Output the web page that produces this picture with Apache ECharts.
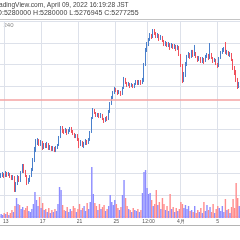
<!DOCTYPE html>
<html>
<head>
<meta charset="utf-8">
<script src="https://cdn.jsdelivr.net/npm/echarts@6/dist/echarts.min.js"></script>
<style>
  html, body { margin: 0; padding: 0; background: #fff; }
  #main { width: 240px; height: 240px; }
</style>
</head>
<body>
<div id="main"></div>
<script>
// BTCJPY 240 min bars, prices in thousand JPY
const headerTitle = 'TradingView.com, April 09, 2022 16:19:28 JST';
const headerOHLC = ['O:5280000', 'H:5280000', 'L:5276945', 'C:5277255'];
const intervalLabel = '240';
const lastClose = 5277.255;

const tickIndex = [3, 27, 51, 75, 96, 117, 141];
const tickText = ['13', '17', '21', '25', '12:00', '4月', '5'];

const opens = [
  4564, 4582, 4592, 4573, 4601, 4582, 4592, 4573, 4555, 4564,
  4444, 4509, 4555, 4536, 4610, 4656, 4619, 4573, 4518, 4536,
  4573, 4629, 4721, 4813, 4877, 4896, 4868, 4887, 4841, 4859,
  4850, 4868, 4831, 4841, 4822, 4831, 4813, 4831, 4859, 4933,
  5016, 4988, 4979, 4997, 4970, 4988, 5006, 4988, 4960, 4933,
  4951, 4905, 4859, 4887, 4850, 4868, 4896, 4877, 4905, 4979,
  5108, 5182, 5154, 5126, 5145, 5117, 5135, 5099, 5080, 5108,
  5099, 5163, 5237, 5292, 5338, 5375, 5357, 5338, 5347, 5329,
  5384, 5458, 5430, 5412, 5421, 5403, 5412, 5394, 5421, 5440,
  5421, 5440, 5430, 5458, 5596, 5735, 5790, 5827, 5873, 5854,
  5910, 5891, 5854, 5873, 5836, 5854, 5818, 5781, 5799, 5771,
  5790, 5762, 5781, 5753, 5771, 5744, 5762, 5689, 5596, 5477,
  5504, 5606, 5670, 5698, 5670, 5716, 5689, 5707, 5670, 5642,
  5661, 5624, 5652, 5633, 5670, 5689, 5661, 5698, 5661, 5633,
  5642, 5606, 5587, 5661, 5707, 5725, 5744, 5707, 5716, 5689,
  5698, 5642, 5569, 5532, 5458, 5403
];
const closes = [
  4582, 4592, 4573, 4601, 4582, 4592, 4573, 4555, 4564, 4444,
  4509, 4555, 4536, 4610, 4656, 4619, 4573, 4518, 4536, 4573,
  4629, 4721, 4813, 4877, 4896, 4868, 4887, 4841, 4859, 4850,
  4868, 4831, 4841, 4822, 4831, 4813, 4831, 4859, 4933, 5016,
  4988, 4979, 4997, 4970, 4988, 5006, 4988, 4960, 4933, 4951,
  4905, 4859, 4887, 4850, 4868, 4896, 4877, 4905, 4979, 5108,
  5182, 5154, 5126, 5145, 5117, 5135, 5099, 5080, 5108, 5099,
  5163, 5237, 5292, 5338, 5375, 5357, 5338, 5347, 5329, 5384,
  5458, 5430, 5412, 5421, 5403, 5412, 5394, 5421, 5440, 5421,
  5440, 5430, 5458, 5596, 5735, 5790, 5827, 5873, 5854, 5910,
  5891, 5854, 5873, 5836, 5854, 5818, 5781, 5799, 5771, 5790,
  5762, 5781, 5753, 5771, 5744, 5762, 5689, 5596, 5477, 5504,
  5606, 5670, 5698, 5670, 5716, 5689, 5707, 5670, 5642, 5661,
  5624, 5652, 5633, 5670, 5689, 5661, 5698, 5661, 5633, 5642,
  5606, 5587, 5661, 5707, 5725, 5744, 5707, 5716, 5689, 5698,
  5642, 5569, 5532, 5458, 5403, 5421
];
const lows = [
  4555, 4564, 4555, 4564, 4564, 4573, 4555, 4536, 4536, 4426,
  4426, 4490, 4518, 4518, 4601, 4601, 4564, 4490, 4500, 4518,
  4564, 4619, 4702, 4794, 4859, 4850, 4850, 4813, 4822, 4831,
  4831, 4813, 4813, 4804, 4804, 4794, 4794, 4822, 4850, 4923,
  4970, 4960, 4970, 4951, 4960, 4979, 4970, 4951, 4923, 4923,
  4896, 4831, 4850, 4841, 4831, 4859, 4859, 4868, 4896, 4970,
  5099, 5145, 5117, 5117, 5108, 5108, 5089, 5062, 5071, 5080,
  5089, 5154, 5228, 5283, 5329, 5347, 5320, 5329, 5311, 5320,
  5375, 5421, 5394, 5403, 5384, 5394, 5384, 5384, 5412, 5412,
  5412, 5412, 5421, 5440, 5587, 5716, 5771, 5818, 5836, 5845,
  5873, 5845, 5845, 5818, 5827, 5808, 5771, 5771, 5762, 5762,
  5735, 5753, 5744, 5744, 5725, 5735, 5679, 5578, 5430, 5440,
  5486, 5587, 5661, 5652, 5661, 5670, 5679, 5661, 5624, 5633,
  5615, 5615, 5606, 5624, 5661, 5642, 5652, 5652, 5615, 5624,
  5596, 5569, 5578, 5652, 5698, 5716, 5698, 5689, 5679, 5670,
  5633, 5550, 5504, 5440, 5375, 5384
];
const highs = [
  4601, 4610, 4601, 4619, 4610, 4610, 4601, 4582, 4582, 4573,
  4518, 4582, 4573, 4619, 4684, 4684, 4629, 4582, 4555, 4582,
  4647, 4739, 4841, 4914, 4923, 4914, 4905, 4896, 4877, 4877,
  4887, 4877, 4859, 4850, 4850, 4841, 4850, 4868, 4942, 5034,
  5034, 5006, 5016, 5006, 5006, 5025, 5025, 4997, 4970, 4960,
  4960, 4923, 4905, 4896, 4887, 4914, 4905, 4923, 4988, 5117,
  5200, 5191, 5163, 5154, 5154, 5154, 5145, 5108, 5117, 5126,
  5182, 5255, 5311, 5357, 5394, 5384, 5366, 5366, 5357, 5394,
  5486, 5477, 5440, 5440, 5430, 5430, 5421, 5430, 5458, 5458,
  5458, 5458, 5477, 5615, 5753, 5808, 5845, 5891, 5882, 5928,
  5928, 5900, 5891, 5882, 5873, 5864, 5827, 5818, 5808, 5808,
  5799, 5799, 5790, 5790, 5781, 5781, 5771, 5698, 5606, 5532,
  5624, 5689, 5716, 5707, 5735, 5735, 5781, 5716, 5679, 5679,
  5670, 5670, 5661, 5689, 5707, 5698, 5799, 5707, 5670, 5661,
  5652, 5615, 5670, 5725, 5753, 5762, 5808, 5735, 5725, 5716,
  5707, 5652, 5587, 5550, 5477, 5440
];
const volumes = [
  40, 30, 50, 40, 60, 30, 50, 80, 60, 120,
  200, 140, 130, 90, 110, 80, 100, 120, 70, 60,
  90, 140, 260, 180, 120, 210, 100, 150, 80, 90,
  60, 100, 50, 80, 60, 90, 70, 140, 310, 280,
  130, 80, 70, 110, 60, 90, 70, 120, 100, 60,
  90, 140, 80, 100, 120, 70, 150, 90, 160, 510,
  240, 150, 120, 80, 140, 90, 110, 130, 70, 90,
  120, 230, 160, 130, 180, 140, 100, 80, 110, 230,
  380, 200, 120, 90, 80, 60, 100, 80, 70, 90,
  60, 80, 250, 460, 480, 300, 240, 250, 180, 120,
  140, 280, 130, 160, 90, 200, 140, 80, 120, 70,
  240, 90, 110, 60, 100, 70, 90, 160, 140, 100,
  130, 90, 120, 70, 80, 60, 120, 50, 80, 60,
  100, 50, 160, 70, 130, 80, 110, 60, 140, 50,
  90, 120, 100, 70, 120, 60, 190, 80, 90, 50,
  110, 190, 100, 350, 200, 120
];

const upColor = '#4a80cc';
const downColor = '#f0505c';
const volUp = '#8c8cff';
const volDown = '#ff8c8c';
const gridColor = '#dde1ea';
const priceLineColor = '#f4a3a3';

// 4h bars from 2022-03-12 12:00
const times = [];
const start = Date.UTC(2022, 2, 12, 12);
for (let i = 0; i < opens.length; i++) {
  const d = new Date(start + i * 4 * 3600 * 1000);
  times.push((d.getUTCMonth() + 1) + '-' + d.getUTCDate() + ' ' + d.getUTCHours() + ':00');
}

const candleData = opens.map((o, i) => [o, closes[i], lows[i], highs[i]]);
const volumeData = volumes.map((v, i) => ({
  value: v,
  itemStyle: { color: closes[i] >= opens[i] ? volUp : volDown }
}));

const isTick = function (index) {
  return tickIndex.indexOf(index) >= 0;
};

const chart = echarts.init(document.getElementById('main'));
chart.setOption({
  animation: false,
  backgroundColor: '#fff',
  grid: [
    { left: 0, right: 0, top: 21.2, bottom: 23.5 },
    { left: 0, right: 0, bottom: 22, height: 60 }
  ],
  xAxis: [
    {
      type: 'category', gridIndex: 0, data: times,
      axisLine: { show: false }, axisTick: { show: false }, axisLabel: { show: false },
      splitLine: { show: true, interval: isTick, lineStyle: { color: gridColor, width: 1 } }
    },
    {
      type: 'category', gridIndex: 1, data: times,
      axisLine: { show: false }, axisTick: { show: false },
      splitLine: { show: false },
      axisLabel: {
        interval: isTick,
        formatter: function (v, i) { return tickText[tickIndex.indexOf(i)]; },
        fontSize: 5, color: '#555', margin: 1.5,
        fontFamily: '"Liberation Sans", Arial, sans-serif'
      }
    }
  ],
  yAxis: [
    {
      type: 'value', gridIndex: 0, min: 4200, max: 6000, interval: 200,
      axisLine: { show: false }, axisTick: { show: false }, axisLabel: { show: false },
      splitLine: { lineStyle: { color: gridColor, width: 1 } }
    },
    { type: 'value', gridIndex: 1, min: 0, max: 600, show: false, splitLine: { show: false } }
  ],
  series: [
    {
      type: 'bar', xAxisIndex: 1, yAxisIndex: 1, data: volumeData,
      barWidth: 1.4, z: 1
    },
    {
      type: 'candlestick', xAxisIndex: 0, yAxisIndex: 0, data: candleData,
      barWidth: 1,
      itemStyle: {
        color: upColor, color0: downColor,
        borderColor: upColor, borderColor0: downColor, borderWidth: 1
      },
      markLine: {
        silent: true, animation: false,
        symbol: ['none', 'none'],
        label: { show: false },
        lineStyle: { color: priceLineColor, width: 1.5, type: 'solid' },
        emphasis: { disabled: true },
        data: [{ yAxis: lastClose }]
      },
      z: 3
    }
  ],
  graphic: [
    {
      type: 'text', x: -7, y: 5,
      style: {
        text: headerTitle, fill: '#444', fontSize: 6.6,
        fontFamily: '"Liberation Sans", Arial, sans-serif', verticalAlign: 'middle'
      }
    },
    {
      type: 'text', x: -3.5, y: 13,
      style: {
        text: headerOHLC.join(' '), fill: '#444', fontSize: 7,
        fontFamily: '"Liberation Sans", Arial, sans-serif', verticalAlign: 'middle'
      }
    },
    {
      type: 'line', shape: { x1: 0, y1: 19.5, x2: 240, y2: 19.5 },
      style: { stroke: '#c4c4c4', lineWidth: 1 }
    },
    {
      type: 'text', x: 3.5, y: 25.5,
      style: {
        text: intervalLabel, fill: '#888', fontSize: 6,
        fontFamily: '"Liberation Sans", Arial, sans-serif', verticalAlign: 'middle'
      }
    },
    {
      type: 'line', shape: { x1: 0, y1: 225.5, x2: 240, y2: 225.5 },
      style: { stroke: '#b4b4b4', lineWidth: 1 }
    }
  ]
});
</script>
</body>
</html>
